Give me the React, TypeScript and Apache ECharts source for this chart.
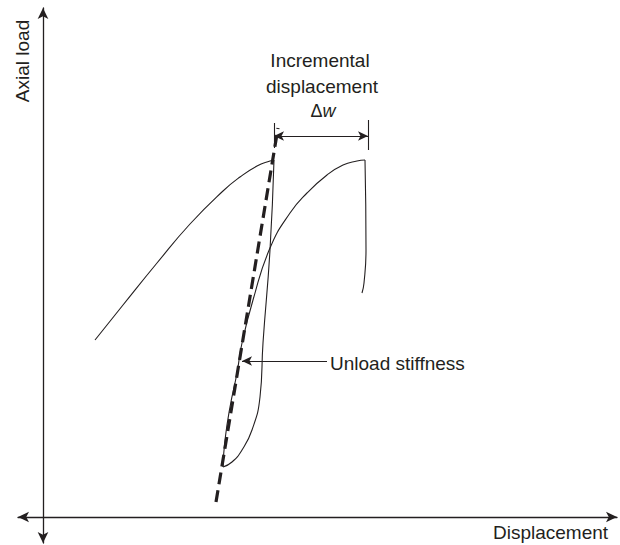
import React, { useEffect, useRef } from "react";
import * as echarts from "echarts";

// Schematic axial load (y) vs displacement (x), arbitrary units
const loadingCurve: [number, number][] = [
  [52, 177], [80, 212], [114, 254], [147, 293], [180, 326], [197, 340], [214, 351], [227, 356], [231, 357],
];
const unloadingCurve: [number, number][] = [
  [231, 357], [227, 267], [220, 174], [217, 120], [209, 87], [199, 67], [189, 55], [180, 50],
];
const reloadingCurve: [number, number][] = [
  [180, 50], [182, 77], [187, 110], [194, 144], [199, 174], [210, 217], [227, 269], [247, 304],
  [264, 324], [284, 342], [300, 352], [314, 356], [322, 357],
];
const dropCurve: [number, number][] = [
  [322, 357], [323, 267], [321, 234], [319, 224],
];
const stiffnessLine: [number, number][] = [
  [173, 15], [235, 389],
];
const deltaW = { from: 231, to: 325, y: 381 };
const deltaTicks: [number, number, number][] = [
  [231, 369, 394],
  [325, 367, 397],
];
const unloadPointer = { from: 284, to: 199, y: 156 };

const INK = "#231f20";
const FONT = "'Liberation Sans', Arial, Helvetica, sans-serif";

export default function App() {
  const ref = useRef<HTMLDivElement>(null);
  useEffect(() => {
    if (!ref.current) return;
    const chart = echarts.init(ref.current, null, { renderer: "svg" });
    const thin = { color: INK, width: 1.1 };
    const curve = (name: string, data: [number, number][]) => ({
      name,
      type: "line",
      data,
      smooth: 0.5,
      showSymbol: false,
      symbol: "none",
      silent: true,
      lineStyle: thin,
    });
    const txt = (text: string, x: number, y: number, align: string, extra: any = {}) => ({
      type: "text",
      x,
      y,
      ...extra,
      style: {
        text,
        fontSize: 19,
        fontFamily: FONT,
        fill: INK,
        textAlign: align,
        align,
        textVerticalAlign: "middle",
        verticalAlign: "middle",
      },
    });
    chart.setOption({
      animation: false,
      backgroundColor: "#ffffff",
      grid: { left: 18, right: 3, top: 8, bottom: 2, containLabel: false, outerBoundsMode: "none" },
      xAxis: {
        type: "value",
        min: -25,
        max: 574,
        axisLine: {
          onZero: true,
          symbol: ["arrow", "arrow"],
          symbolSize: [8, 11],
          lineStyle: { color: INK, width: 1.3 },
        },
        axisTick: { show: false },
        axisLabel: { show: false },
        splitLine: { show: false },
      },
      yAxis: {
        type: "value",
        min: -26,
        max: 509,
        axisLine: {
          onZero: true,
          symbol: ["arrow", "arrow"],
          symbolSize: [8, 11],
          lineStyle: { color: INK, width: 1.3 },
        },
        axisTick: { show: false },
        axisLabel: { show: false },
        splitLine: { show: false },
      },
      series: [
        curve("loading", loadingCurve),
        curve("unloading", unloadingCurve),
        curve("reloading", reloadingCurve),
        curve("drop", dropCurve),
        {
          name: "unload stiffness",
          type: "line",
          data: stiffnessLine,
          showSymbol: false,
          symbol: "none",
          silent: true,
          lineStyle: { color: INK, width: 3.2, type: [12, 6], cap: "butt" },
        },
        {
          name: "annotations",
          type: "line",
          data: [],
          silent: true,
          markLine: {
            silent: true,
            animation: false,
            symbolSize: [7, 10],
            label: { show: false },
            emphasis: { disabled: true },
            lineStyle: { color: INK, width: 1.1, type: "solid" },
            data: [
              [
                { coord: [deltaW.from, deltaW.y], symbol: "arrow" },
                { coord: [deltaW.to, deltaW.y], symbol: "arrow" },
              ],
              ...deltaTicks.map(([x, y0, y1]) => [
                { coord: [x, y0], symbol: "none" },
                { coord: [x, y1], symbol: "none" },
              ]),
              [
                { coord: [unloadPointer.from, unloadPointer.y], symbol: "none" },
                { coord: [unloadPointer.to, unloadPointer.y], symbol: "arrow" },
              ],
            ],
          },
        },
      ],
      graphic: [
        txt("Axial load", 22, 61, "center", { rotation: Math.PI / 2 }),
        txt("Displacement", 493, 532, "left"),
        txt("Incremental", 320, 60, "center"),
        txt("displacement", 322, 86, "center"),
        {
          type: "text",
          x: 323,
          y: 111,
          style: {
            text: "{d|Δ}{w|w}",
            fontSize: 18,
            fontFamily: FONT,
            fill: INK,
            textAlign: "center",
            align: "center",
            textVerticalAlign: "middle",
            verticalAlign: "middle",
            rich: {
              d: { fontSize: 18, fontFamily: FONT, color: INK },
              w: { fontSize: 18, fontFamily: FONT, color: INK, fontStyle: "italic" },
            },
          },
        },
        txt("Unload stiffness", 330, 363, "left"),
      ],
    });
    return () => chart.dispose();
  }, []);
  return (
    <div
      ref={ref}
      style={{ position: "fixed", left: 0, top: 0, width: 620, height: 545, background: "#fff" }}
    />
  );
}
